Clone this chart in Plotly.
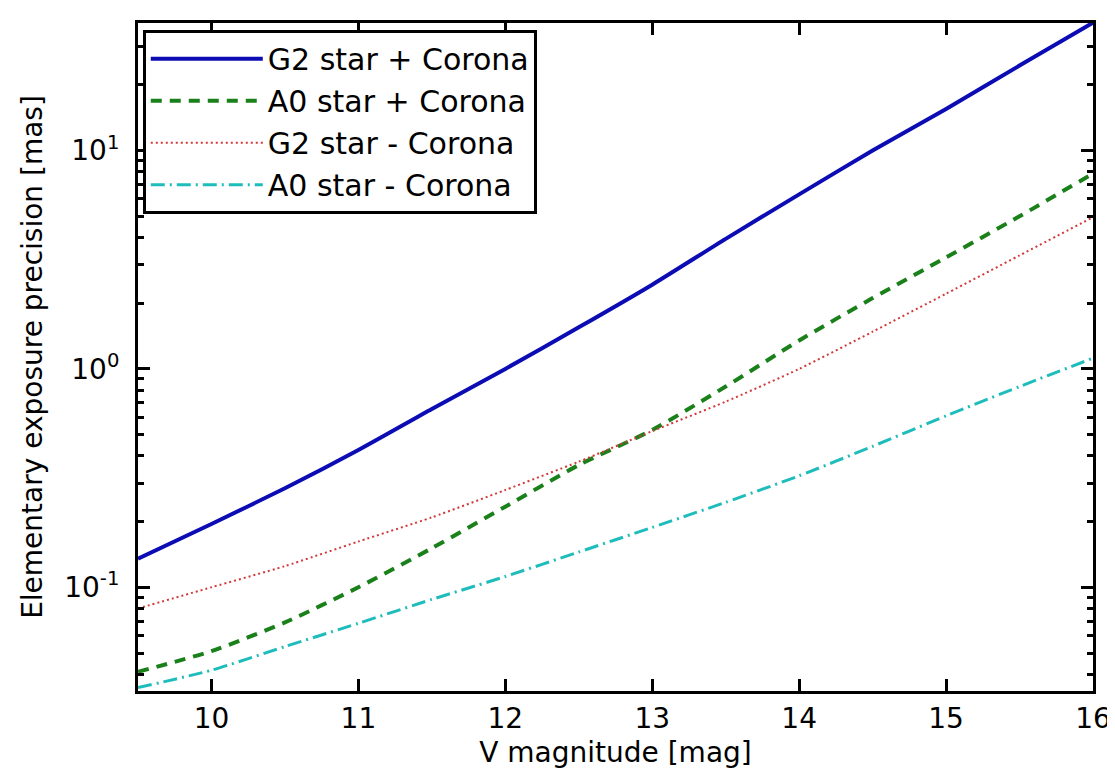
import plotly.graph_objects as go

mag = [9.5, 10.0, 10.5, 11.0, 11.5, 12.0, 12.5, 13.0, 13.5, 14.0, 14.5, 15.0, 15.5, 16.0]
g2_corona = [0.135, 0.195, 0.284, 0.425, 0.655, 1.0, 1.55, 2.43, 3.94, 6.3, 10.0, 15.5, 24.5, 38.5]
a0_corona = [0.041, 0.051, 0.069, 0.100, 0.151, 0.234, 0.363, 0.525, 0.83, 1.35, 2.11, 3.24, 5.0, 7.85]
g2_nocorona = [0.080, 0.100, 0.125, 0.162, 0.209, 0.279, 0.376, 0.519, 0.708, 1.0, 1.48, 2.21, 3.31, 4.95]
a0_nocorona = [0.0347, 0.0417, 0.0535, 0.0684, 0.088, 0.112, 0.145, 0.188, 0.245, 0.324, 0.442, 0.61, 0.83, 1.12]

names = ["G2 star + Corona", "A0 star + Corona", "G2 star - Corona", "A0 star - Corona"]
x_ticks = [10, 11, 12, 13, 14, 15, 16]
y_ticks = [0.1, 1, 10]
y_ticktext = ["10<sup>-1</sup>", "10<sup>0</sup>", "10<sup>1</sup>"]

series = [g2_corona, a0_corona, g2_nocorona, a0_nocorona]
styles = [
    dict(color="#0c0cb4", width=4, dash="solid"),
    dict(color="#1a801a", width=4, dash="11px,8px"),
    dict(color="#d23a3a", width=2, dash="2px,3px"),
    dict(color="#1fbcbc", width=3, dash="14px,5px,2px,5px"),
]

fig = go.Figure()
for i, (nm, ys, st) in enumerate(zip(names, series, styles)):
    fig.add_trace(go.Scatter(x=mag, y=ys, mode="lines", name=nm,
                             line=dict(shape="spline", smoothing=0.6, **st),
                             legendgroup=f"g{i}"))

minor_vals = []
for dec in [0.01, 0.1, 1, 10]:
    for k in range(2, 10):
        minor_vals.append(dec * k)

font = "DejaVu Sans"
fs = 28
fig.update_layout(
    width=1115, height=774,
    margin=dict(l=130, r=22, t=13, b=91),
    paper_bgcolor="white", plot_bgcolor="white",
    font=dict(family=font, size=fs, color="black"),
    showlegend=True,
    legend=dict(x=0.005, y=0.99, xanchor="left", yanchor="top",
                bgcolor="white", bordercolor="black", borderwidth=3,
                font=dict(family=font, size=30, color="black"), itemwidth=112, tracegroupgap=13,
                traceorder="normal"),
    xaxis=dict(range=[9.5, 16], tickvals=x_ticks, ticks="inside", ticklen=12, tickwidth=3,
               tickcolor="black", showline=True, linecolor="black", linewidth=3, mirror="ticks",
               showgrid=False, zeroline=False,
               title=dict(text="V magnitude [mag]", standoff=9, font=dict(family=font, size=fs)),
               tickfont=dict(family=font, size=fs)),
    yaxis=dict(type="log", range=[-1.475, 1.584], tickvals=y_ticks, ticktext=y_ticktext,
               ticks="inside", ticklen=12, tickwidth=3, tickcolor="black",
               showline=True, linecolor="black", linewidth=3, mirror="ticks",
               showgrid=False, zeroline=False, ticklabelstandoff=10,
               minor=dict(tickvals=minor_vals, ticks="inside", ticklen=6, tickwidth=3,
                          tickcolor="black", showgrid=False),
               title=dict(text="Elementary exposure precision [mas]", standoff=14,
                          font=dict(family=font, size=fs)),
               tickfont=dict(family=font, size=fs)),
)

fig.write_html("out.html")
